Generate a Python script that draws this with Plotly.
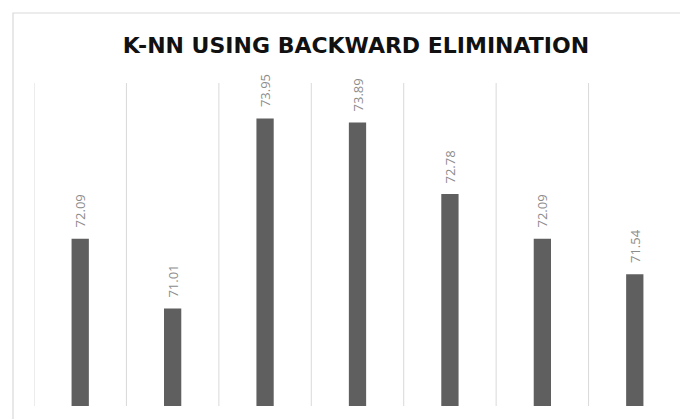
import plotly.graph_objects as go

categories = ["C1", "C2", "C3", "C4", "C5", "C6", "C7"]
accuracy = [72.09, 71.01, 73.95, 73.89, 72.78, 72.09, 71.54]
value_labels = ["72.09", "71.01", "73.95", "73.89", "72.78", "72.09", "71.54"]
title_text = "K-NN USING BACKWARD ELIMINATION"

# the page body adds an 8px offset, so the figure is 8px smaller on each axis
OFF = 8
W, H = 688 - OFF, 419 - OFF
ml, mt = 34 - OFF, 83 - OFF
pw, ph = 647, 323
mr, mb = W - ml - pw, H - mt - ph

fig = go.Figure()
fig.add_trace(go.Bar(
    x=categories, y=accuracy,
    marker=dict(color="#5f5f5f", line=dict(width=0)),
    hoverinfo="skip",
))

for c, v, t in zip(categories, accuracy, value_labels):
    fig.add_annotation(
        x=c, y=v, xref="x", yref="y", text=t, showarrow=False,
        textangle=-90, yanchor="bottom", xanchor="center", yshift=9,
        font=dict(family="Open Sans", size=13, color="#8c8c8c"),
    )

# vertical gridlines on category boundaries (including both edges)
for i in range(len(categories) + 1):
    fig.add_shape(
        type="line", xref="x", yref="paper",
        x0=i - 0.5, x1=i - 0.5, y0=0, y1=1,
        line=dict(color="#d9d9d9", width=1), layer="below",
    )

# outer chart border (extends beyond the cropped picture on right and bottom)
fig.add_shape(
    type="rect", xref="paper", yref="paper",
    x0=(13 - OFF - ml) / pw, x1=1.2, y0=-0.2, y1=1 + (mt - (13 - OFF)) / ph,
    line=dict(color="#d9d9d9", width=1.2), fillcolor="rgba(0,0,0,0)", layer="below",
)

fig.update_layout(
    width=W, height=H,
    margin=dict(l=ml, r=mr, t=mt, b=mb, pad=0),
    paper_bgcolor="white", plot_bgcolor="white",
    bargap=0.813,
    showlegend=False,
    title=dict(
        text="<b>" + title_text + "</b>",
        x=(356 - OFF) / W, xanchor="center", xref="container",
        y=1 - (45 - OFF) / H, yanchor="middle", yref="container",
        font=dict(family="DejaVu Sans", size=22, color="#111111"),
    ),
    xaxis=dict(
        type="category", range=[-0.5, 6.5], showticklabels=False,
        showgrid=False, ticks="", showline=False, zeroline=False,
    ),
    yaxis=dict(
        range=[69.5, 74.5], showticklabels=False, showgrid=False,
        zeroline=False, showline=False, ticks="",
    ),
)

fig.write_html("out.html")
